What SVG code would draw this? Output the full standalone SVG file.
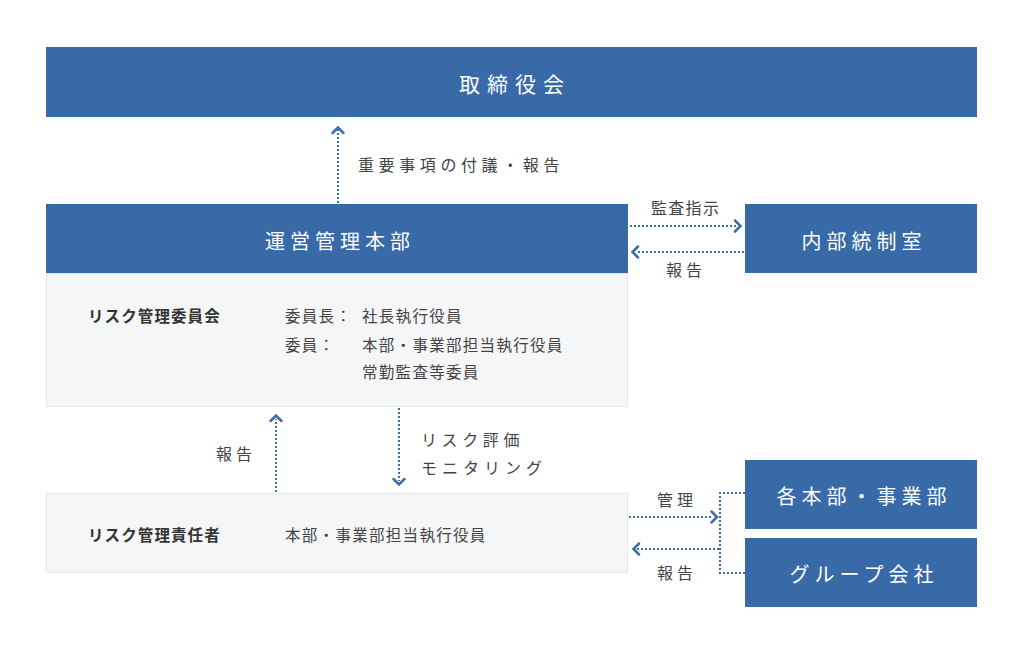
<svg xmlns="http://www.w3.org/2000/svg" width="1024" height="654" viewBox="0 0 1024 654">
<style>
text{font-family:"Noto Sans CJK JP","Noto Sans",sans-serif}
.blue{fill:#386aa7}
.pale{fill:#f5f6f8;stroke:#e5e7ea;stroke-width:1}
.bt{fill:#fff;font-size:20px;letter-spacing:5px;text-anchor:middle;dominant-baseline:central}
.lb{fill:#444;font-size:16px;letter-spacing:4.6px;dominant-baseline:central}
.it{fill:#444;font-size:15.5px;letter-spacing:1.3px;dominant-baseline:central}
.hd{fill:#333;font-size:15.5px;font-weight:bold;letter-spacing:1.1px;dominant-baseline:central}
.dot{fill:none;stroke:#3c6dab;stroke-width:2;stroke-dasharray:2 2}
.chev{fill:none;stroke:#3c6dab;stroke-width:2.5;stroke-linecap:round;stroke-linejoin:miter}
</style>
<rect width="1024" height="654" fill="#fff"/>
<g id="board">
<rect class="blue" x="46" y="47" width="931" height="70"/>
<text class="bt" x="515" y="83" style="font-size:21px;letter-spacing:7px">取締役会</text>
</g>
<g id="hq">
<rect class="blue" x="46" y="204" width="582" height="69"/>
<text class="bt" x="340" y="240">運営管理本部</text>
</g>
<g id="committee">
<rect class="pale" x="46.5" y="273.5" width="581" height="133"/>
<text class="hd" x="88" y="315">リスク管理委員会</text>
<text class="it" x="285" y="315">委員長：</text>
<text class="it" x="362" y="315">社長執行役員</text>
<text class="it" x="285" y="344">委員：</text>
<text class="it" x="362" y="344">本部・事業部担当執行役員</text>
<text class="it" x="362" y="371">常勤監査等委員</text>
</g>
<g id="audit">
<rect class="blue" x="745" y="204" width="232" height="69"/>
<text class="bt" x="864" y="240">内部統制室</text>
</g>
<g id="officer">
<rect class="pale" x="46.5" y="493.5" width="581" height="79"/>
<text class="hd" x="88" y="534">リスク管理責任者</text>
<text class="it" x="285" y="534">本部・事業部担当執行役員</text>
</g>
<g id="divisions">
<rect class="blue" x="745" y="460" width="232" height="69"/>
<text class="bt" x="864" y="495">各本部・事業部</text>
</g>
<g id="group">
<rect class="blue" x="745" y="538" width="232" height="69"/>
<text class="bt" x="864" y="573">グループ会社</text>
</g>
<g id="connectors">
<line class="dot" x1="338" y1="203" x2="338" y2="130"/>
<polyline class="chev" points="332.5,133 338,127.5 343.5,133"/>
<line class="dot" x1="630" y1="226" x2="736" y2="226"/>
<polyline class="chev" points="735,220.5 740.5,226 735,231.5"/>
<line class="dot" x1="744" y1="252" x2="636" y2="252"/>
<polyline class="chev" points="638,246.5 632.5,252 638,257.5"/>
<line class="dot" x1="276" y1="492" x2="276" y2="419"/>
<polyline class="chev" points="270.5,421 276,415.5 281.5,421"/>
<line class="dot" x1="399" y1="408" x2="399" y2="481"/>
<polyline class="chev" points="393.5,479 399,484.5 404.5,479"/>
<line class="dot" x1="629" y1="517" x2="713" y2="517"/>
<polyline class="chev" points="711.5,511.5 717,517 711.5,522.5"/>
<line class="dot" x1="719" y1="549" x2="637" y2="549"/>
<polyline class="chev" points="639,543.5 633.5,549 639,554.5"/>
<polyline class="dot" points="745,493 720,493 720,573 745,573"/>
<text class="lb" x="358" y="164">重要事項の付議・報告</text>
<text class="lb" x="651" y="207" style="letter-spacing:1.3px">監査指示</text>
<text class="lb" x="666" y="269" style="letter-spacing:4px">報告</text>
<text class="lb" x="216" y="453" style="letter-spacing:4px">報告</text>
<text class="lb" x="421" y="439">リスク評価</text>
<text class="lb" x="421" y="467" style="letter-spacing:5px">モニタリング</text>
<text class="lb" x="657" y="499" style="letter-spacing:4px">管理</text>
<text class="lb" x="657" y="572" style="letter-spacing:4px">報告</text>
</g>
</svg>
